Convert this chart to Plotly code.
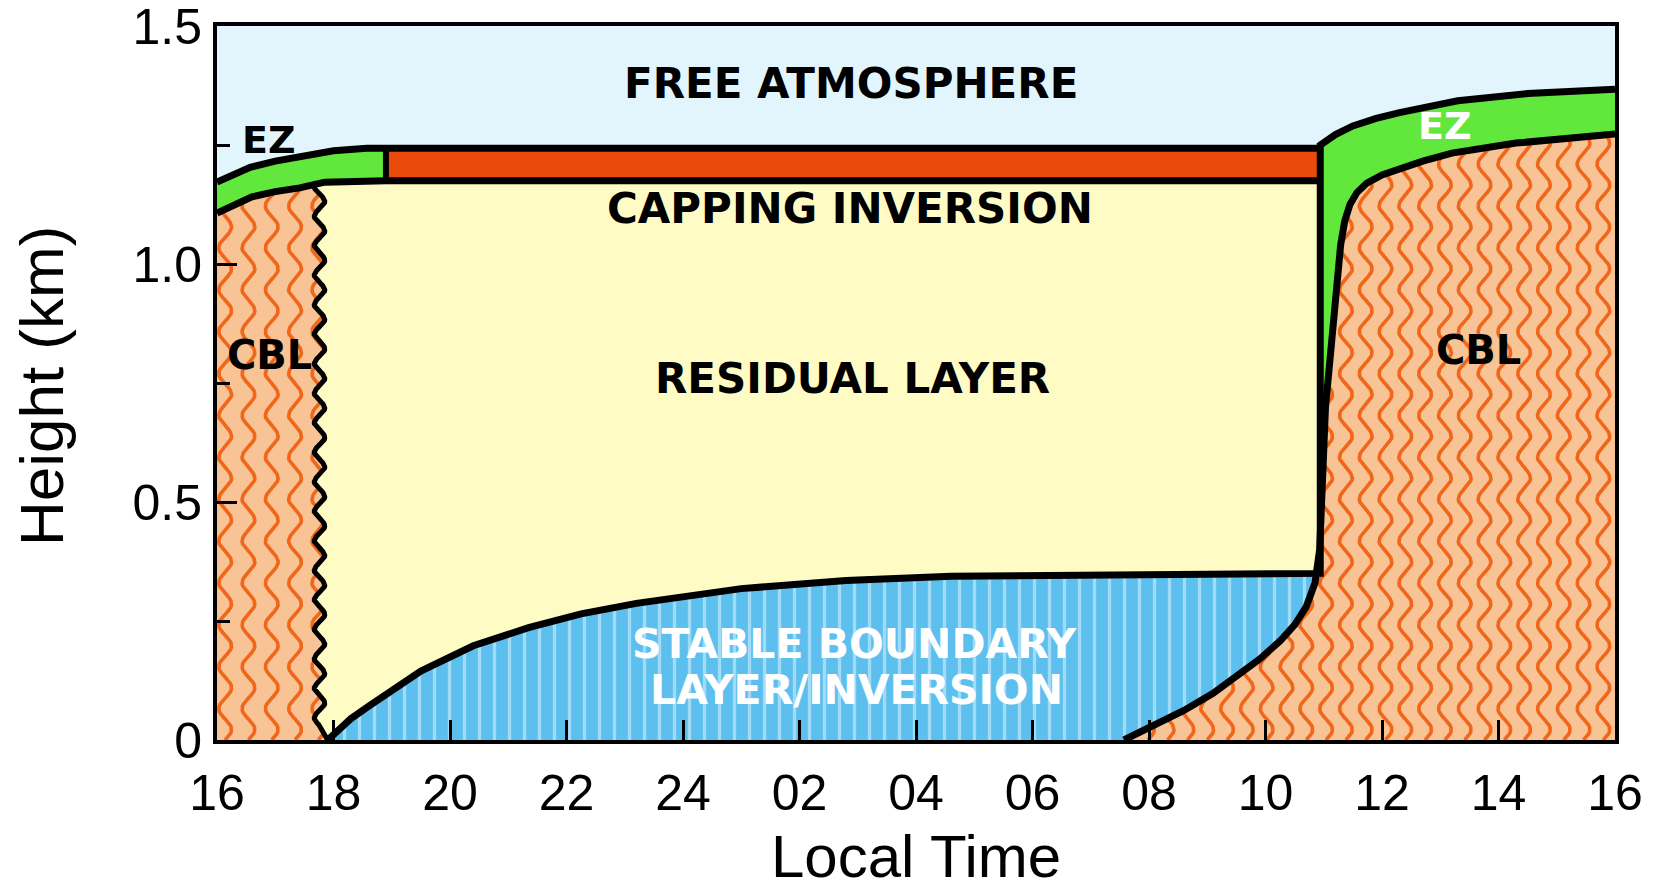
import numpy as np
import plotly.graph_objects as go

# ---------------- data : time = hours after 16:00 local, height in km ----------------
tick_hours = [0, 2, 4, 6, 8, 10, 12, 14, 16, 18, 20, 22, 24]
tick_labels = ["16", "18", "20", "22", "24", "02", "04", "06", "08", "10", "12", "14", "16"]
height_ticks = [0, 0.5, 1.0, 1.5]
height_labels = ["0", "0.5", "1.0", "1.5"]
height_minor = [0.25, 0.75, 1.25]

# evening convective boundary layer top
cbl_eve_x = [0.0, 0.3, 0.6, 1.0, 1.42, 1.85, 2.9]
cbl_eve_y = [1.107, 1.126, 1.141, 1.152, 1.160, 1.172, 1.175]
# evening entrainment zone top
ez_eve_x = [0.0, 0.3, 0.57, 1.0, 1.42, 2.0, 2.57, 2.9]
ez_eve_y = [1.172, 1.189, 1.203, 1.216, 1.226, 1.238, 1.243, 1.243]
# capping inversion
cap_start, cap_end = 2.9, 18.94
cap_base, cap_top = 1.175, 1.243
# collapse of the CBL at sunset (centre of wavy boundary)
collapse_x = 1.76
# stable boundary layer top
sbl_x = [1.9, 2.3, 2.65, 3.0, 3.5, 4.4, 5.35, 6.25, 7.2, 9.0, 10.8, 12.6, 18.94]
sbl_y = [0.0, 0.045, 0.075, 0.105, 0.145, 0.198, 0.236, 0.265, 0.287, 0.318, 0.335, 0.344, 0.35]
# morning convective boundary layer top
cbl_morn_x = [15.57, 16.1, 16.6, 17.1, 17.5, 17.9, 18.25, 18.5, 18.7, 18.85, 18.93, 18.97,
              19.03, 19.1, 19.17, 19.23, 19.29, 19.36, 19.45, 19.57, 19.74, 20.0, 20.3,
              20.7, 21.2, 22.3, 24.0]
cbl_morn_y = [0.0, 0.03, 0.062, 0.098, 0.133, 0.17, 0.208, 0.242, 0.28, 0.33, 0.40, 0.55,
              0.70, 0.79, 0.88, 0.97, 1.04, 1.09, 1.125, 1.15, 1.17, 1.187, 1.2,
              1.216, 1.233, 1.254, 1.273]
# morning entrainment zone top
ez_morn_x = [18.94, 19.2, 19.5, 19.9, 20.3, 21.3, 22.5, 24.0]
ez_morn_y = [1.25, 1.272, 1.29, 1.306, 1.318, 1.343, 1.358, 1.367]

# ---------------- style ----------------
C_FA = "#e3f5fc"
C_EZ = "#62e83c"
C_CAP = "#ea4a0c"
C_RL = "#fffbc4"
C_SBL = "#5cbfee"
C_CBL = "#f8c395"
C_WAVE = "#f0661a"
LW = 7
BOLD = "DejaVu Sans"
REG = "Liberation Sans, Arial, sans-serif"

fig = go.Figure()


def poly(x, y, color, **kw):
    fig.add_trace(go.Scatter(x=x, y=y, mode="lines", fill="toself", fillcolor=color,
                             line=dict(width=0, color=color), hoverinfo="skip",
                             showlegend=False, **kw))


def line(x, y, width=LW, color="black"):
    fig.add_trace(go.Scatter(x=x, y=y, mode="lines", line=dict(width=width, color=color),
                             hoverinfo="skip", showlegend=False))


# convective boundary layers (peach)
poly([cbl_morn_x[0]] + cbl_morn_x + [24.0], [0.0] + cbl_morn_y + [0.0], C_CBL)
poly([0.0] + cbl_eve_x + [cbl_eve_x[-1]], [0.0] + cbl_eve_y + [0.0], C_CBL)

# wavy hatch texture of the CBLs (decorative pattern)
T_SPACE, T_PERIOD, T_AMP = 0.34, 0.088, 0.11
tx, ty = [], []
def add_waves(x_positions, top_x, top_y):
    for x0 in x_positions:
        ytop = float(np.interp(x0 + T_AMP, top_x, top_y)) + 0.01
        if ytop <= 0.005:
            continue
        yy = np.linspace(0.0, ytop, max(int(ytop / T_PERIOD * 20), 6))
        xx = x0 + T_AMP * np.sin(2 * np.pi * yy / T_PERIOD)
        tx.extend(list(xx) + [None])
        ty.extend(list(yy) + [None])
add_waves(np.arange(0.14, 1.9, 0.4), cbl_eve_x, cbl_eve_y)
add_waves(np.arange(15.3, 24.3, T_SPACE), cbl_morn_x, cbl_morn_y)
fig.add_trace(go.Scatter(x=tx, y=ty, mode="lines", line=dict(width=3.6, color=C_WAVE),
                         hoverinfo="skip", showlegend=False, connectgaps=False))

# stable boundary layer (blue with vertical stripes)
low_idx = [i for i, v in enumerate(cbl_morn_y) if v <= sbl_y[-1]]
sx = sbl_x + [cbl_morn_x[i] for i in reversed(low_idx)]
sy = sbl_y + [cbl_morn_y[i] for i in reversed(low_idx)]
fig.add_trace(go.Scatter(x=sx, y=sy, mode="lines", fill="toself", fillcolor=C_SBL,
                         fillpattern=dict(shape="|", size=15, solidity=0.22, fgcolor="#e4f8ff",
                                          bgcolor=C_SBL, fillmode="overlay"),
                         line=dict(width=0), hoverinfo="skip", showlegend=False))

# wavy collapse boundary (sunset)
W_PERIOD, W_AMP = 0.062, 0.09
wy = np.linspace(0.03, cbl_eve_y[-2], 400)
wx = collapse_x + W_AMP * np.sin(2 * np.pi * wy / W_PERIOD)
wave_x = [sbl_x[0]] + list(wx)
wave_y = [0.0] + list(wy)

# residual layer (yellow)
rx = wave_x + [wave_x[-1], cap_end] + list(reversed(sbl_x))
ry = wave_y + [cap_base, cap_base] + list(reversed(sbl_y))
poly(rx, ry, C_RL)

# morning entrainment zone (green)
hi_idx = [i for i, v in enumerate(cbl_morn_x) if v > cap_end]
gx = [cap_end] + ez_morn_x + [cbl_morn_x[i] for i in reversed(hi_idx)]
gy = [cbl_morn_y[hi_idx[0]] - 0.15] + ez_morn_y + [cbl_morn_y[i] for i in reversed(hi_idx)]
poly(gx, gy, C_EZ)

# evening entrainment zone (green)
poly(ez_eve_x + list(reversed(cbl_eve_x)), ez_eve_y + list(reversed(cbl_eve_y)), C_EZ)

# capping inversion (red)
poly([cap_start, cap_end, cap_end, cap_start], [cap_base, cap_base, cap_top, cap_top], C_CAP)

# outlines
line(ez_eve_x + [cap_end], ez_eve_y + [cap_top])
line(cbl_eve_x + [cap_end], cbl_eve_y + [cap_base])
line(sbl_x + [cap_end] + ez_morn_x, sbl_y + [ez_morn_y[0]] + ez_morn_y)
line(cbl_morn_x, cbl_morn_y)
line([cap_start, cap_start], [cap_base, cap_top], width=6)
line(wave_x, wave_y, width=5)

# labels
def label(x, y, text, size=42, color="black"):
    fig.add_annotation(x=x, y=y, text="<b>" + text + "</b>", showarrow=False,
                       xanchor="center", yanchor="middle", borderpad=0,
                       font=dict(family=BOLD, size=size, color=color))

label(10.89, 1.379, "FREE ATMOSPHERE")
label(10.87, 1.117, "CAPPING INVERSION")
label(10.91, 0.759, "RESIDUAL LAYER")
label(10.95, 0.201, "STABLE BOUNDARY", size=41, color="white")
label(10.98, 0.105, "LAYER/INVERSION", size=41, color="white")
label(0.90, 0.808, "CBL", size=40)
label(21.65, 0.819, "CBL", size=40)
label(0.90, 1.261, "EZ", size=38)
label(21.08, 1.289, "EZ", size=38, color="white")

# axis titles
fig.add_annotation(xref="paper", yref="paper", x=-0.125, y=0.496, text="Height (km)",
                   textangle=-90, showarrow=False, xanchor="center", yanchor="middle",
                   font=dict(family=REG, size=62, color="black"))
fig.add_annotation(xref="paper", yref="paper", x=0.50, y=-0.2112, text="Local Time",
                   showarrow=False, xanchor="center", yanchor="bottom", borderpad=0,
                   font=dict(family=REG, size=60, color="black"))

fig.update_layout(
    width=1658, height=891,
    margin=dict(l=217, r=43, t=26, b=151),
    paper_bgcolor="white", plot_bgcolor=C_FA,
    showlegend=False,
)
fig.update_xaxes(
    range=[0, 24], tickvals=tick_hours, ticktext=tick_labels, automargin=False,
    ticks="inside", ticklen=20, tickwidth=3, tickcolor="black",
    showline=True, linewidth=4, linecolor="black", mirror=True,
    showgrid=False, zeroline=False, ticklabelstandoff=6, ticklabeloverflow="allow",
    tickfont=dict(family=REG, size=50, color="black"),
)
fig.update_yaxes(
    range=[0, 1.5], tickvals=height_ticks, ticktext=height_labels, automargin=False,
    ticks="inside", ticklen=20, tickwidth=3, tickcolor="black",
    minor=dict(tickvals=height_minor, ticks="inside", ticklen=13, tickwidth=3, tickcolor="black"),
    showline=True, linewidth=4, linecolor="black", mirror=True,
    showgrid=False, zeroline=False, ticklabelstandoff=1, ticklabeloverflow="allow",
    tickfont=dict(family=REG, size=50, color="black"),
)

fig.write_html("out.html", config={"displayModeBar": False},
               post_script="document.body.style.margin='0';document.body.style.overflow='hidden';")
